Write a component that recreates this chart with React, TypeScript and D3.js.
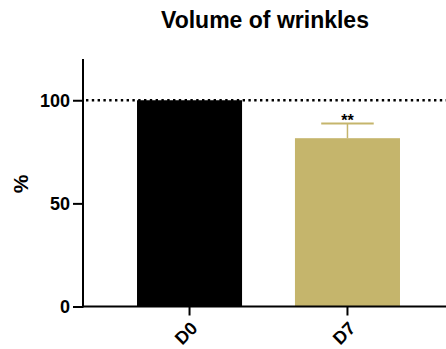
import React, { useEffect, useRef } from "react";
import * as d3 from "d3";

const categories = ["D0", "D7"];
const means = [100, 81.6];
const errors = [0, 7.1];
const colors = ["#000000", "#c5b56c"];
const stars = ["", "**"];
const yTicks = [0, 50, 100];

const width = 446;
const height = 349;

export default function App() {
  const ref = useRef<SVGSVGElement | null>(null);

  useEffect(() => {
    const svg = d3.select(ref.current);
    svg.selectAll("*").remove();

    const font = "Arial, 'Liberation Sans', sans-serif";

    const x = d3.scaleBand<string>()
      .domain(categories)
      .range([83, 454])
      .paddingInner(0.335)
      .paddingOuter(0.342);

    const y = d3.scaleLinear()
      .domain([0, 120])
      .range([306.5, 59]);

    // title
    svg.append("text")
      .attr("x", 265)
      .attr("y", 28)
      .attr("text-anchor", "middle")
      .attr("font-family", font)
      .attr("font-weight", "bold")
      .attr("font-size", 23)
      .text("Volume of wrinkles");

    // y label
    svg.append("text")
      .attr("transform", "translate(28,184) rotate(-90)")
      .attr("text-anchor", "middle")
      .attr("font-family", font)
      .attr("font-weight", "bold")
      .attr("font-size", 21)
      .text("%");

    // bars
    svg.selectAll("rect.bar")
      .data(categories)
      .enter()
      .append("rect")
      .attr("class", "bar")
      .attr("x", (d) => x(d)!)
      .attr("width", x.bandwidth())
      .attr("y", (d, i) => y(means[i]))
      .attr("height", (d, i) => y(0) - y(means[i]))
      .attr("fill", (d, i) => colors[i]);

    // error bars
    categories.forEach((c, i) => {
      if (!errors[i]) return;
      const cx = x(c)! + x.bandwidth() / 2;
      const top = y(means[i] + errors[i]);
      svg.append("line")
        .attr("x1", cx).attr("x2", cx)
        .attr("y1", y(means[i])).attr("y2", top)
        .attr("stroke", colors[i])
        .attr("stroke-width", 1.5);
      svg.append("line")
        .attr("x1", cx - x.bandwidth() / 4).attr("x2", cx + x.bandwidth() / 4)
        .attr("y1", top).attr("y2", top)
        .attr("stroke", colors[i])
        .attr("stroke-width", 2);
      svg.append("text")
        .attr("x", cx)
        .attr("y", top + 2)
        .attr("text-anchor", "middle")
        .attr("font-family", font)
        .attr("font-weight", "bold")
        .attr("font-size", 16)
        .text(stars[i]);
    });

    // reference line at 100
    svg.append("line")
      .attr("x1", 86).attr("x2", width)
      .attr("y1", y(100)).attr("y2", y(100))
      .attr("stroke", "#000")
      .attr("stroke-width", 2.4)
      .attr("stroke-dasharray", "2.4,3.4");

    // y axis
    const yAxis = svg.append("g")
      .attr("transform", "translate(83,0)")
      .call(d3.axisLeft(y).tickValues(yTicks).tickSize(10).tickPadding(3));
    yAxis.select(".domain").remove();
    yAxis.selectAll("line").attr("stroke", "#000").attr("stroke-width", 2);
    yAxis.selectAll("text")
      .attr("font-family", font)
      .attr("font-weight", "bold")
      .attr("font-size", 18)
      .attr("fill", "#000");
    svg.append("line")
      .attr("x1", 83).attr("x2", 83)
      .attr("y1", y(120)).attr("y2", y(0) + 1)
      .attr("stroke", "#000")
      .attr("stroke-width", 2);

    // x axis
    svg.append("line")
      .attr("x1", 82).attr("x2", width)
      .attr("y1", y(0)).attr("y2", y(0))
      .attr("stroke", "#000")
      .attr("stroke-width", 2);
    const xAxis = svg.append("g")
      .attr("transform", `translate(0,${y(0)})`)
      .call(d3.axisBottom(x).tickSize(9).tickSizeOuter(0));
    xAxis.select(".domain").remove();
    xAxis.selectAll("line").attr("stroke", "#000").attr("stroke-width", 2);
    xAxis.selectAll("text")
      .attr("font-family", font)
      .attr("font-weight", "bold")
      .attr("font-size", 18)
      .attr("fill", "#000")
      .attr("text-anchor", "end")
      .attr("dy", null)
      .attr("y", null)
      .attr("transform", "translate(9,23) rotate(-45)");
  }, []);

  return (
    <svg
      ref={ref}
      width={width}
      height={height}
      style={{ position: "absolute", left: 0, top: 0, background: "#fff" }}
    />
  );
}
